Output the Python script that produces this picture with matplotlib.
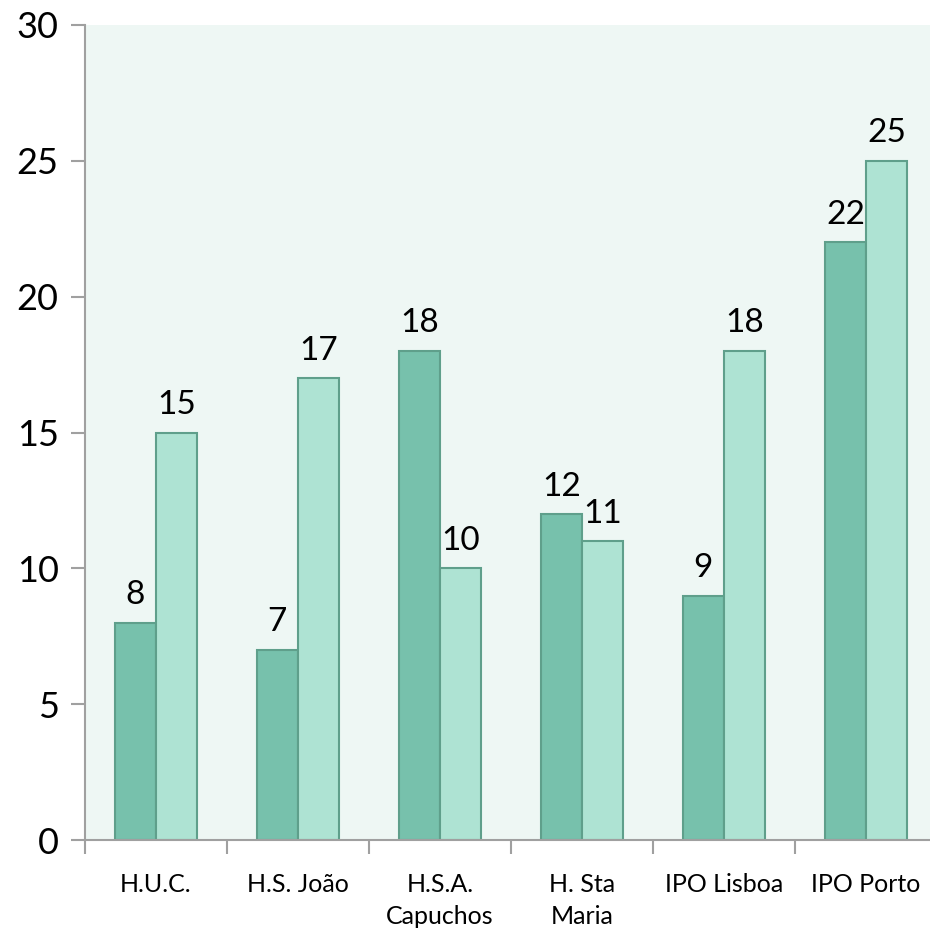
import matplotlib.pyplot as plt
import numpy as np

plt.rcParams['font.family'] = ['Lato', 'DejaVu Sans']

categories = ['H.U.C.', 'H.S. João', 'H.S.A.\nCapuchos', 'H. Sta\nMaria', 'IPO Lisboa', 'IPO Porto']
serie1 = [8, 7, 18, 12, 9, 22]
serie2 = [15, 17, 10, 11, 18, 25]

fig = plt.figure(figsize=(9.3, 9.35), dpi=100)
ax = fig.add_axes([85 / 930, 1 - 840 / 935, 852 / 930, 815 / 935])
ax.set_facecolor('#EEF7F4')

x = np.arange(len(categories))
w = 0.29
b1 = ax.bar(x - w / 2, serie1, w, color='#77C1AC', edgecolor='#5F9F8B', linewidth=1.5)
b2 = ax.bar(x + w / 2, serie2, w, color='#AEE3D3', edgecolor='#5F9F8B', linewidth=1.5)

for bars in (b1, b2):
    for r in bars:
        ax.annotate(str(int(r.get_height())), (r.get_x() + r.get_width() / 2, r.get_height()),
                    xytext=(0, 9), textcoords='offset points', ha='center', va='bottom', fontsize=24)

ax.set_ylim(0, 30)
ax.set_xlim(-0.5, len(categories) - 0.5)
ax.set_yticks(range(0, 31, 5))
ax.set_xticks(np.arange(-0.5, len(categories), 1))
ax.set_xticklabels([])
ax.set_xticks(x, minor=True)
ax.set_xticklabels(categories, minor=True, fontsize=18, linespacing=1.45, va='top')
ax.tick_params(axis='x', which='minor', length=0, pad=24)
ax.tick_params(axis='x', which='major', length=10, width=1.5, color='#A0A0A0')
ax.tick_params(axis='y', length=10, width=1.5, color='#A0A0A0', labelsize=26, pad=9)

for s in ('top', 'right'):
    ax.spines[s].set_visible(False)
for s in ('left', 'bottom'):
    ax.spines[s].set_color('#A0A0A0')
    ax.spines[s].set_linewidth(1.5)

plt.savefig('out.png', dpi=100)
